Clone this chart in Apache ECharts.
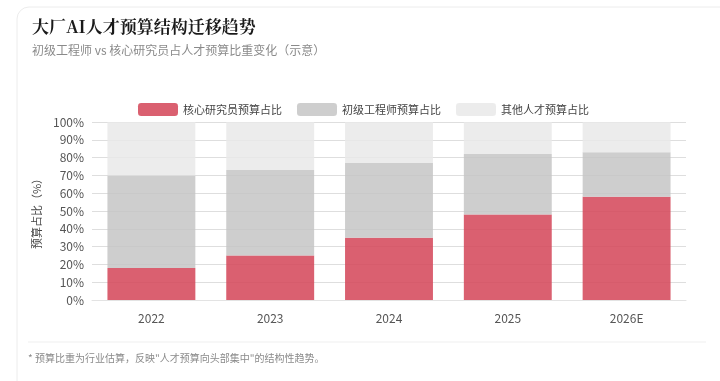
<!DOCTYPE html>
<html><head><meta charset="utf-8">
<script src="https://cdn.jsdelivr.net/npm/echarts@6/dist/echarts.min.js"></script>
<style>html,body{margin:0;padding:0;background:#fff}#c{width:720px;height:381px}</style>
</head><body><div id="c"></div>
<script>
const categories = ['2022', '2023', '2024', '2025', '2026E'];
const coreResearcher = [18, 25, 35, 48, 58];
const juniorEngineer = [52, 48, 42, 34, 25];
const otherTalent = [30, 27, 23, 18, 17];
const seriesNames = ['核心研究员预算占比', '初级工程师预算占比', '其他人才预算占比'];

const chart = echarts.init(document.getElementById('c'));
const font = '"Noto Sans CJK SC", "Noto Sans", sans-serif';
chart.setOption({
  backgroundColor: '#fff',
  textStyle: { fontFamily: font },
  graphic: [
    { type: 'rect', shape: { x: 17, y: 7, width: 760, height: 420, r: 12 }, style: { fill: '#fff', stroke: '#ececec', lineWidth: 1 }, z: -10 },
    { type: 'line', shape: { x1: 28, y1: 342, x2: 706, y2: 342 }, style: { stroke: '#efefef', lineWidth: 1 } },
    { type: 'text', left: 28, top: 353, style: { text: '* 预算比重为行业估算，反映"人才预算向头部集中"的结构性趋势。', fill: '#8a8a8a', font: '10px ' + font } }
  ],
  title: {
    text: '大厂AI人才预算结构迁移趋势',
    subtext: '初级工程师 vs 核心研究员占人才预算比重变化（示意）',
    left: 27, top: 13, itemGap: 9,
    textStyle: { fontSize: 17, fontWeight: 'bold', color: '#1a1a1a', fontFamily: '"Noto Serif CJK SC", "Noto Sans CJK SC", serif' },
    subtextStyle: { fontSize: 12, color: '#8a8a8a', fontFamily: font }
  },
  legend: {
    top: 98, left: 133, itemWidth: 40, itemHeight: 13, itemGap: 15,
    textStyle: { fontSize: 11, color: '#444' },
    data: seriesNames
  },
  grid: { left: 92, right: 34, top: 122, bottom: 81 },
  xAxis: {
    type: 'category', data: categories,
    axisLine: { lineStyle: { color: '#e3e3e3' } },
    axisTick: { show: false },
    axisLabel: { color: '#555', fontSize: 12, margin: 12 }
  },
  yAxis: {
    type: 'value', min: 0, max: 100, interval: 10,
    name: '预算占比（%）', nameLocation: 'middle', nameGap: 42,
    nameTextStyle: { fontSize: 11, color: '#444' },
    axisLabel: { formatter: '{value}%', color: '#555', fontSize: 12 },
    splitLine: { lineStyle: { color: '#dedede' } },
    axisLine: { show: false }, axisTick: { show: false }
  },
  series: [
    { name: seriesNames[0], type: 'bar', stack: 'a', data: coreResearcher, barWidth: '74%', itemStyle: { color: '#d54a5c', opacity: 0.88 } },
    { name: seriesNames[1], type: 'bar', stack: 'a', data: juniorEngineer, itemStyle: { color: '#c6c6c6', opacity: 0.85 } },
    { name: seriesNames[2], type: 'bar', stack: 'a', data: otherTalent, itemStyle: { color: '#e9e9e9', opacity: 0.85 } }
  ]
});
</script></body></html>
